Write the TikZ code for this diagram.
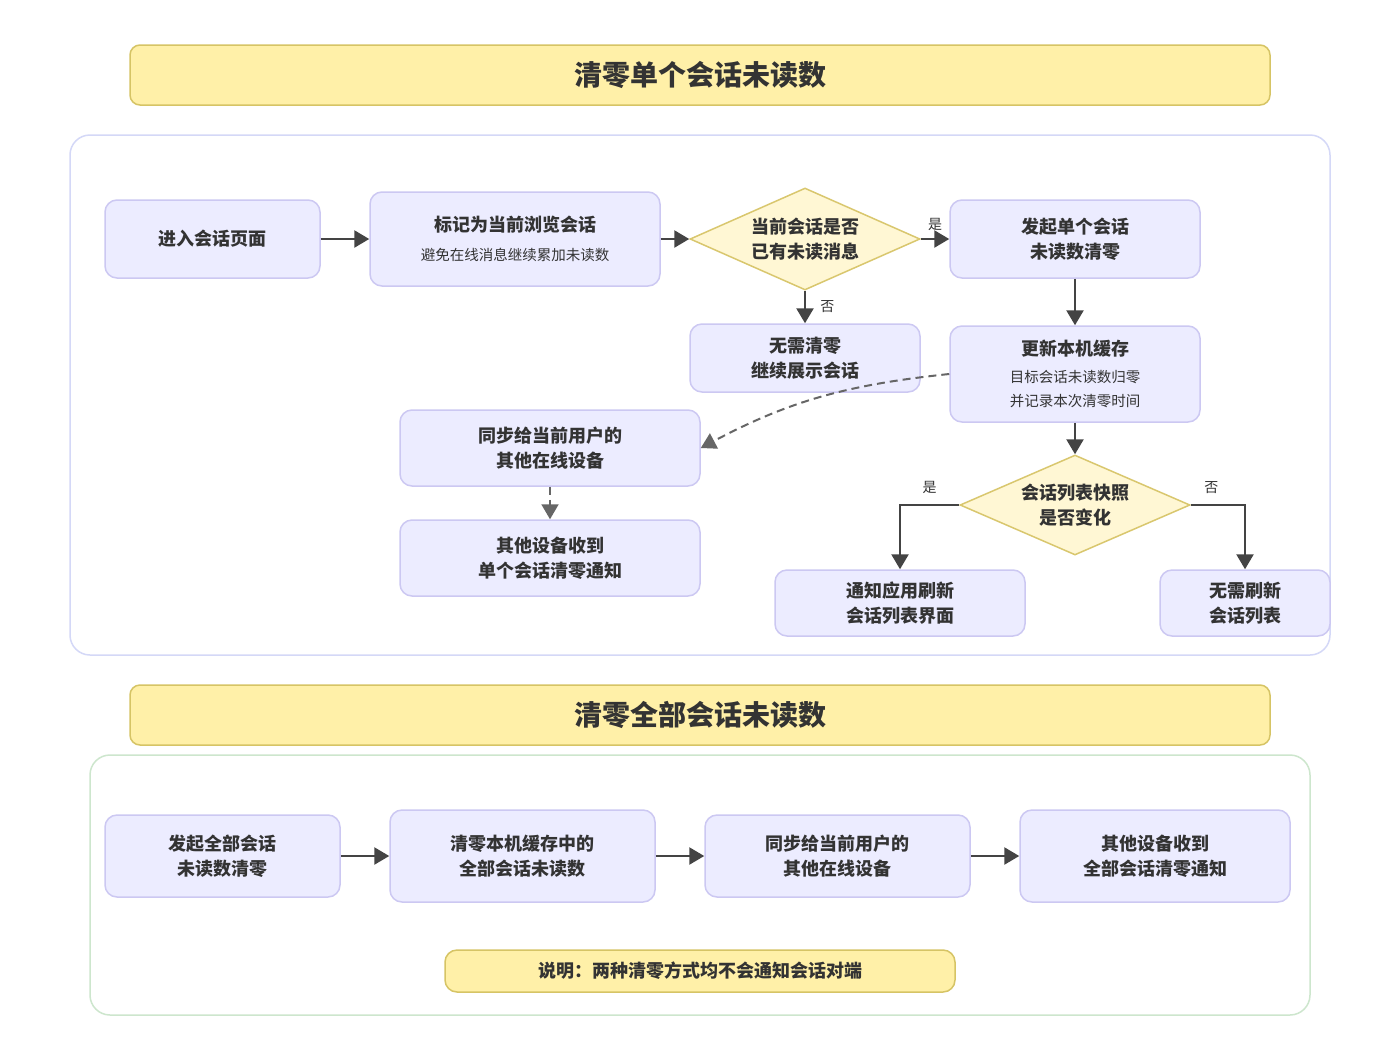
\documentclass[tikz,border=0pt]{standalone}
\usepackage{fontspec}
\setmainfont{Noto Sans CJK SC}
\usetikzlibrary{arrows.meta,shapes.geometric}
\definecolor{nodefill}{HTML}{ECECFF}
\definecolor{nodeline}{HTML}{CCC8F2}
\definecolor{diafill}{HTML}{FFF7D4}
\definecolor{dialine}{HTML}{D9C76E}
\definecolor{titlefill}{HTML}{FFF0A8}
\definecolor{titleline}{HTML}{D6C465}
\definecolor{contone}{HTML}{D4D8F7}
\definecolor{conttwo}{HTML}{CDE6CD}
\definecolor{arr}{HTML}{444444}
\definecolor{darr}{HTML}{666666}
\definecolor{txt}{HTML}{333333}
\newcommand\nfont{\fontsize{18}{25}\selectfont\bfseries}
\newcommand\sfnt{\fontsize{14.5}{24}\selectfont\mdseries}
\newcommand\tfont{\fontsize{28}{32}\selectfont\bfseries}
\begin{document}
\begin{tikzpicture}[x=1pt,y=-1pt,
  proc/.style={draw=nodeline, fill=nodefill, line width=1.5pt, rounded corners=12pt, inner sep=0pt, align=center, text=txt, font=\nfont},
  dia/.style={draw=dialine, fill=diafill, line width=1.5pt, shape=diamond, inner sep=0pt},
  diatext/.style={align=center, text=txt, font=\nfont, inner sep=0pt},
  ttl/.style={draw=titleline, fill=titlefill, line width=1.5pt, rounded corners=10pt, inner sep=0pt, text=txt, font=\tfont},
  frm/.style={line width=1.5pt, rounded corners=20pt, fill=white, inner sep=0pt},
  arrow/.style={draw=arr, line width=2.5pt, -{Triangle[length=15pt,width=17pt]}},
  darrow/.style={draw=darr, line width=2pt, dash pattern=on 8pt off 5pt, -{Triangle[length=15pt,width=17pt]}},
  lbl/.style={text=txt, font=\fontsize{14}{16}\selectfont, inner sep=1pt}
]
\useasboundingbox (0,0) rectangle (1400,1050);
\fill[white] (0,0) rectangle (1400,1050);

% section 1
\node[ttl, minimum width=1140pt, minimum height=60pt] (T1) at (700,75) {清零单个会话未读数};
\node[frm, draw=contone, minimum width=1260pt, minimum height=520pt] (S1) at (700,395) {};

\node[proc, minimum width=215pt, minimum height=78pt] (A) at (212.5,239) {进入会话页面};
\node[proc, minimum width=290pt, minimum height=94pt] (B) at (515,239) {标记为当前浏览会话\\[4pt]{\sfnt 避免在线消息继续累加未读数}};
\node[dia, minimum width=230pt, minimum height=102pt] (D1) at (805,239) {};
\node[diatext] (D1t) at (805,239) {当前会话是否\\已有未读消息};
\node[proc, minimum width=250pt, minimum height=78pt] (C) at (1075,239) {发起单个会话\\未读数清零};
\node[proc, minimum width=230pt, minimum height=68pt] (E) at (805,358) {无需清零\\继续展示会话};
\node[proc, minimum width=250pt, minimum height=96pt] (F) at (1075,374) {更新本机缓存\\[2pt]{\sfnt 目标会话未读数归零}\\[-1pt]{\sfnt 并记录本次清零时间}};
\node[proc, minimum width=300pt, minimum height=76pt] (G) at (550,448) {同步给当前用户的\\其他在线设备};
\node[proc, minimum width=300pt, minimum height=76pt] (H) at (550,558) {其他设备收到\\单个会话清零通知};
\node[dia, minimum width=230pt, minimum height=100pt] (D2) at (1075,505) {};
\node[diatext] (D2t) at (1075,505) {会话列表快照\\是否变化};
\node[proc, minimum width=250pt, minimum height=66pt] (I) at (900,603) {通知应用刷新\\会话列表界面};
\node[proc, minimum width=170pt, minimum height=66pt] (J) at (1245,603) {无需刷新\\会话列表};

\draw[arrow] (A) -- (B);
\draw[arrow] (B) -- (D1);
\draw[arrow] (D1) -- node[lbl, above=6pt] (L1) {是} (C);
\draw[arrow] (D1) -- node[lbl, right=13pt] (L2) {否} (E);
\draw[arrow] (C) -- (F);
\draw[darrow] (F.west) to[out=186,in=28] (G.east);
\draw[darrow] (G) -- (H);
\draw[arrow] (F) -- (D2);
\draw[arrow] (D2.west) -| node[lbl, pos=0.25, above=9pt] (L3) {是} (I);
\draw[arrow] (D2.east) -| node[lbl, pos=0.19, above=9pt] (L4) {否} (J);

% section 2
\node[ttl, minimum width=1140pt, minimum height=60pt] (T2) at (700,715) {清零全部会话未读数};
\node[frm, draw=conttwo, minimum width=1220pt, minimum height=260pt] (S2) at (700,885) {};

\node[proc, minimum width=235pt, minimum height=82pt] (K) at (222.5,856) {发起全部会话\\未读数清零};
\node[proc, minimum width=265pt, minimum height=92pt] (L) at (522.5,856) {清零本机缓存中的\\全部会话未读数};
\node[proc, minimum width=265pt, minimum height=82pt] (M) at (837.5,856) {同步给当前用户的\\其他在线设备};
\node[proc, minimum width=270pt, minimum height=92pt] (N) at (1155,856) {其他设备收到\\全部会话清零通知};
\node[ttl, font=\nfont, rounded corners=12pt, minimum width=510pt, minimum height=42pt] (NT) at (700,971) {说明：两种清零方式均不会通知会话对端};

\draw[arrow] (K) -- (L);
\draw[arrow] (L) -- (M);
\draw[arrow] (M) -- (N);
\end{tikzpicture}
\end{document}
